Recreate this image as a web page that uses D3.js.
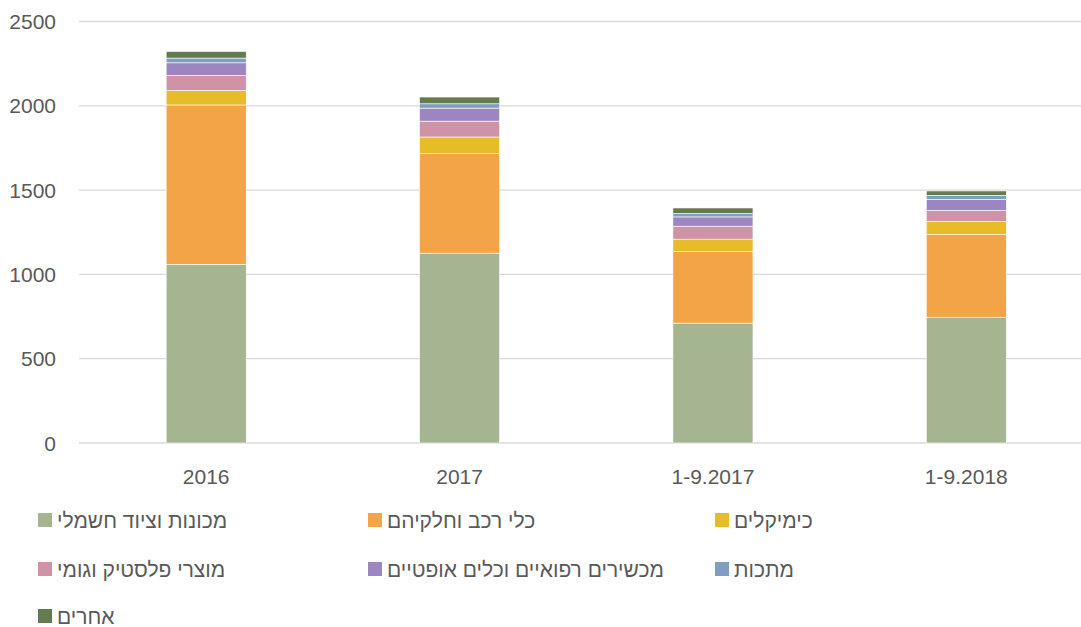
<!DOCTYPE html>
<html>
<head>
<meta charset="utf-8">
<script src="https://cdn.jsdelivr.net/npm/d3@7"></script>
<style>
  body { margin: 0; background: #fff; }
  text { font-family: "Liberation Sans", Arial, sans-serif; fill: #595959; }
</style>
</head>
<body>
<script>
//chart values
var periods = ["2016", "2017", "1-9.2017", "1-9.2018"];
var seriesNames = ["מכונות וציוד חשמלי", "כלי רכב וחלקיהם", "כימיקלים",
  "מוצרי פלסטיק וגומי", "מכשירים רפואיים וכלים אופטיים", "מתכות", "אחרים"];
var machinery = [1060, 1126, 711, 746];
var vehicles = [945, 590, 426, 490];
var chemicals = [86, 99, 72, 79];
var plastics = [89, 94, 77, 65];
var medical = [75, 77, 55, 64];
var metals = [28, 26, 20, 25];
var others = [39, 40, 33, 26];
var yTicks = [0, 500, 1000, 1500, 2000, 2500];
var colors = ["#A5B592", "#F3A447", "#E7BC29", "#D092A7", "#9C85C0", "#809EC2", "#637B4E"];

var width = 1081, height = 627;

var svg = d3.select("body").append("svg")
  .attr("width", width)
  .attr("height", height);

//rows for the stack
var allSeries = [machinery, vehicles, chemicals, plastics, medical, metals, others];
var rows = periods.map(function(p, i) {
  var r = { period: p };
  seriesNames.forEach(function(n, j) { r[n] = allSeries[j][i]; });
  return r;
});

var x = d3.scaleBand()
  .domain(periods)
  .range([79.5, 1093])
  .paddingInner(0.684)
  .paddingOuter(0.342);

var y = d3.scaleLinear()
  .domain([0, 2500])
  .range([443, 21.5]);

//gridlines
svg.selectAll(".grid")
  .data(yTicks)
  .enter()
  .append("line")
  .attr("x1", 79)
  .attr("x2", width)
  .attr("y1", function(d) { return y(d); })
  .attr("y2", function(d) { return y(d); })
  .attr("stroke", "#d9d9d9")
  .attr("stroke-width", 1.3);

//y labels
svg.selectAll(".ylab")
  .data(yTicks)
  .enter()
  .append("text")
  .attr("x", 56)
  .attr("y", function(d) { return y(d); })
  .attr("dy", "0.36em")
  .attr("text-anchor", "end")
  .style("font-size", "21px")
  .text(function(d) { return d; });

var stack = d3.stack().keys(seriesNames);
var layers = stack(rows);

svg.selectAll(".layer")
  .data(layers)
  .enter()
  .append("g")
  .attr("fill", function(d, i) { return colors[i]; })
  .selectAll("rect")
  .data(function(d) { return d; })
  .enter()
  .append("rect")
  .attr("x", function(d) { return x(d.data.period); })
  .attr("width", x.bandwidth())
  .attr("y", function(d) { return y(d[1]); })
  .attr("height", function(d) { return y(d[0]) - y(d[1]); })
  .attr("stroke", "#fff")
  .attr("stroke-width", 0.6);

//x labels
svg.selectAll(".xlab")
  .data(periods)
  .enter()
  .append("text")
  .attr("x", function(d) { return x(d) + x.bandwidth() / 2; })
  .attr("y", 476)
  .attr("dy", "0.36em")
  .attr("text-anchor", "middle")
  .style("font-size", "21px")
  .text(function(d) { return d; });

//legend
var colX = [38, 368, 715];
var rowY = [520, 569, 616];
var legend = svg.selectAll(".legend")
  .data(seriesNames)
  .enter()
  .append("g")
  .attr("transform", function(d, i) {
    return "translate(" + colX[i % 3] + "," + rowY[Math.floor(i / 3)] + ")";
  });

legend.append("rect")
  .attr("x", 0)
  .attr("y", -7)
  .attr("width", 14)
  .attr("height", 14)
  .attr("fill", function(d, i) { return colors[i]; });

legend.append("text")
  .attr("x", 19)
  .attr("dy", "0.36em")
  .style("font-size", "21px")
  .text(function(d) { return d; });
</script>
</body>
</html>
